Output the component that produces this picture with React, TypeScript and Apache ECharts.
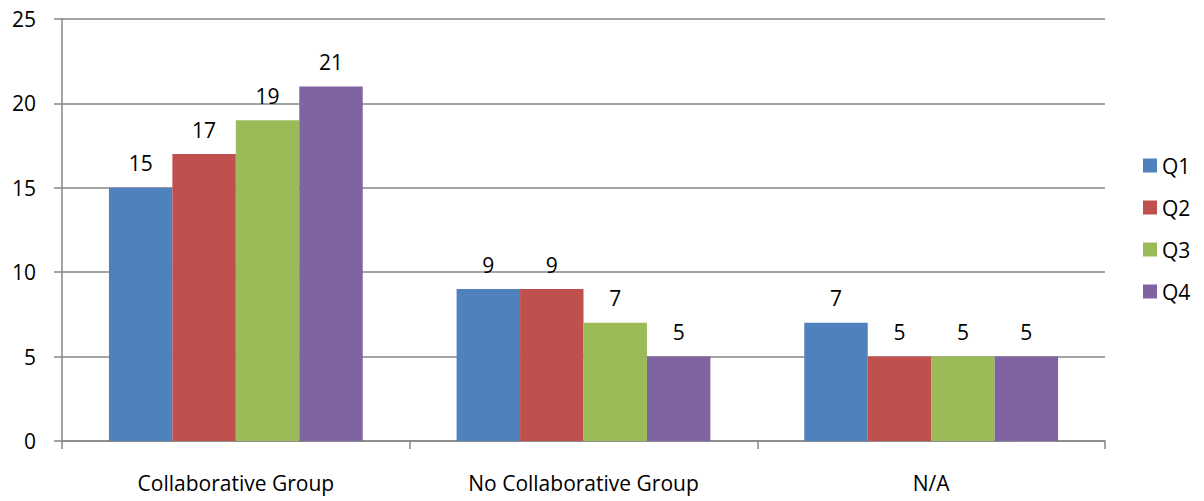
import React, { useEffect, useRef } from "react";
import * as echarts from "echarts";

const categories = ["Collaborative Group", "No Collaborative Group", "N/A"];
const seriesNames = ["Q1", "Q2", "Q3", "Q4"];
const q1 = [15, 9, 7];
const q2 = [17, 9, 5];
const q3 = [19, 7, 5];
const q4 = [21, 5, 5];
const colors = ["#4F81BD", "#C0504D", "#9BBB59", "#8064A2"];

const FONT = "'Open Sans', 'Liberation Sans', sans-serif";

export default function App() {
  const ref = useRef<HTMLDivElement>(null);

  useEffect(() => {
    if (!ref.current) return;
    const chart = echarts.init(ref.current, undefined, { renderer: "svg" });
    const values = [q1, q2, q3, q4];
    chart.setOption({
      animation: false,
      backgroundColor: "#ffffff",
      color: colors,
      grid: { left: 62, right: 99, top: 19, bottom: 60, containLabel: false },
      legend: {
        orient: "vertical",
        left: 1143,
        top: 155,
        padding: 0,
        itemWidth: 14,
        itemHeight: 14,
        itemGap: 21,
        icon: "rect",
        data: seriesNames,
        textStyle: { fontFamily: FONT, fontSize: 21, color: "#000" },
      },
      xAxis: {
        type: "category",
        data: categories,
        axisLine: { lineStyle: { color: "#868686", width: 1.5 } },
        axisTick: { show: true, length: 8, lineStyle: { color: "#868686", width: 1.5 } },
        axisLabel: { fontFamily: FONT, fontSize: 21, color: "#000", margin: 31 },
      },
      yAxis: {
        type: "value",
        min: 0,
        max: 25,
        interval: 5,
        axisLine: { show: true, lineStyle: { color: "#868686", width: 1.5 } },
        axisTick: { show: true, length: 8, lineStyle: { color: "#868686", width: 1.5 } },
        axisLabel: { fontFamily: FONT, fontSize: 21, color: "#000", margin: 26 },
        splitLine: { lineStyle: { color: "#868686", width: 1.5 } },
      },
      series: seriesNames.map((name, i) => ({
        name,
        type: "bar",
        data: values[i],
        barGap: "0%",
        barCategoryGap: "27%",
        itemStyle: { color: colors[i] },
        label: {
          show: true,
          position: "top",
          distance: 14,
          fontFamily: FONT,
          fontSize: 21,
          color: "#000",
        },
      })),
    });
    return () => chart.dispose();
  }, []);

  return (
    <div
      ref={ref}
      style={{ position: "absolute", left: 0, top: 0, width: 1204, height: 501 }}
    />
  );
}
